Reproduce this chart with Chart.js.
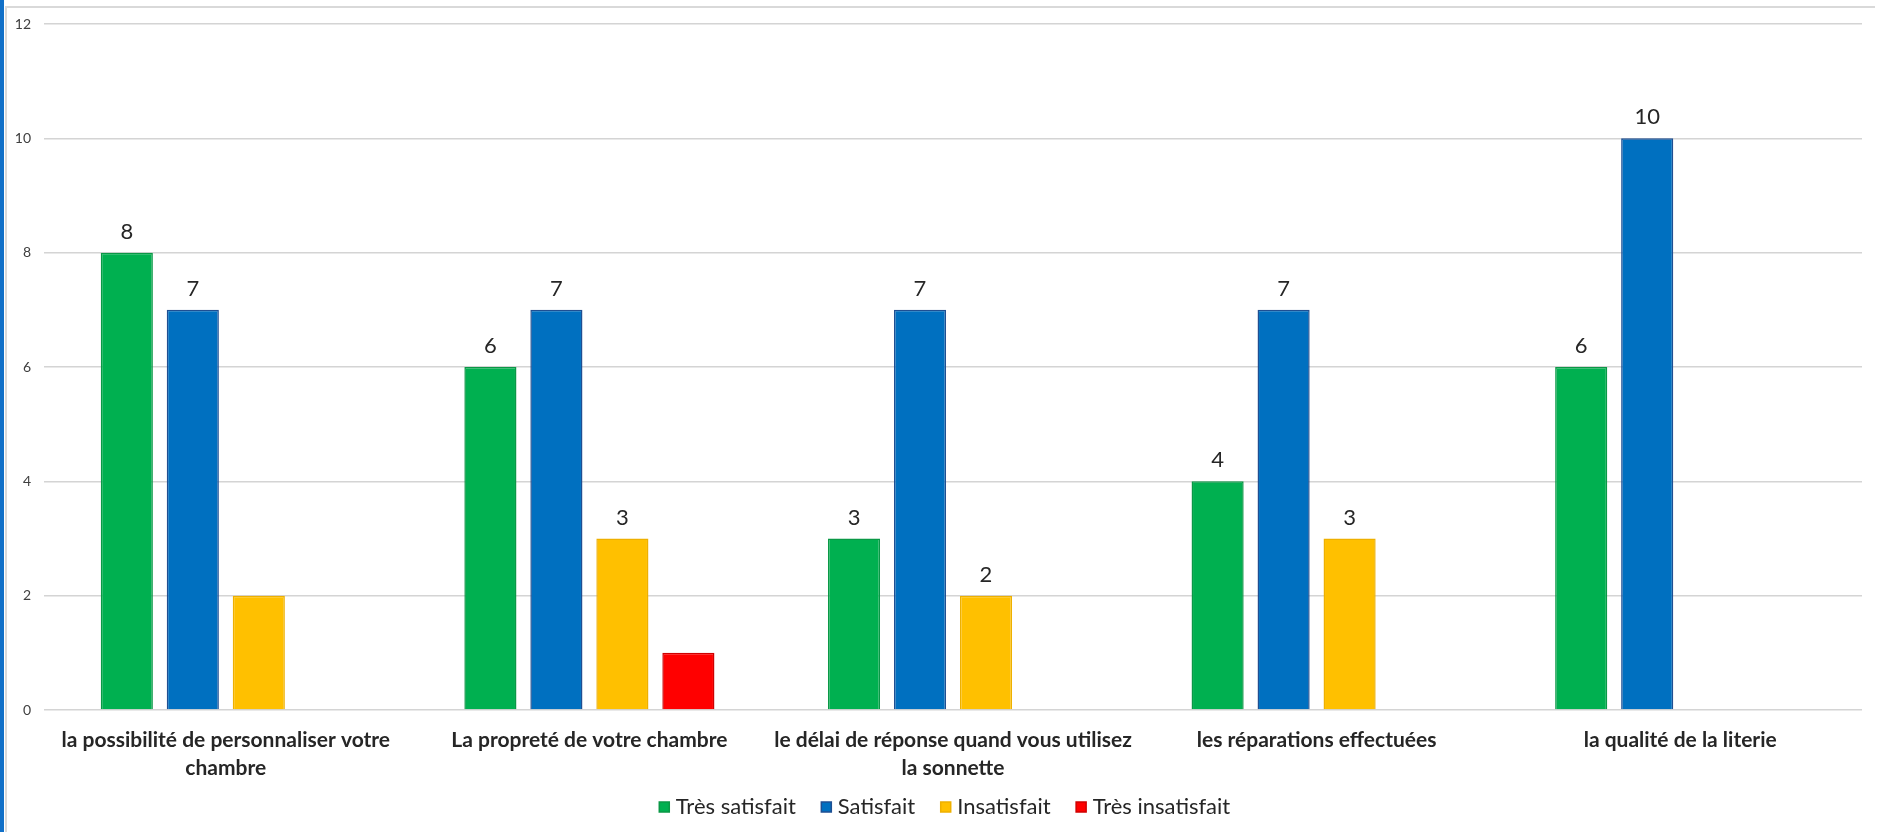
<!DOCTYPE html>
<html>
<head>
<meta charset="utf-8">
<title>Satisfaction</title>
<script src="https://cdn.jsdelivr.net/npm/chart.js@4.4.1/dist/chart.umd.min.js"></script>
<style>
    html, body { margin: 0; padding: 0; background: #fff; }
    #frame { position: absolute; left: 0; top: 0; width: 1878px; height: 832px; overflow: hidden; }
    #blueEdge { position: absolute; left: 0; top: 0; width: 4px; height: 832px; background: #1170c8; }
    #greyEdge { position: absolute; left: 5px; top: 6px; width: 1870px; height: 826px;
                border-left: 2px solid #d9d9d9; border-top: 2px solid #d9d9d9; box-sizing: border-box; }
    #chartBox { position: absolute; left: 0; top: 0; width: 1878px; height: 832px; }
</style>
</head>
<body>
<div id="frame">
    <div id="blueEdge"></div>
    <div id="greyEdge"></div>
    <div id="chartBox"><canvas id="barChartSatisfaction"></canvas></div>
</div>

<script>
"use strict"

// chart data
// -----------------
var categories = [
    ['la possibilité de personnaliser votre', 'chambre'],
    'La propreté de votre chambre',
    ['le délai de réponse quand vous utilisez', 'la sonnette'],
    'les réparations effectuées',
    'la qualité de la literie'
];

var seriesNames = ['Très satisfait', 'Satisfait', 'Insatisfait', 'Très insatisfait'];

var tresSatisfait = [8, 6, 3, 4, 6];
var satisfait = [7, 7, 7, 7, 10];
var insatisfait = [2, 3, 2, 3, null];
var tresInsatisfait = [null, 1, null, null, null];

var yTicks = [0, 2, 4, 6, 8, 10, 12];

// [series, category] pairs that have no value label in the original
var unlabelled = [[2, 0], [3, 1]];
// -----------------

var fillColors = ['#00b050', '#0070c0', '#ffc000', '#ff0000'];
var edgeColors = ['#0a9846', '#1f4f92', '#eeb000', '#d00000'];

Chart.defaults.font.family = 'Lato, Carlito, "Noto Sans", sans-serif';
Chart.defaults.color = '#262626';

// value labels above the bars
var barValueLabels = {
    id: 'barValueLabels',
    afterDatasetsDraw: function(chart) {
        var ctx = chart.ctx;
        ctx.save();
        ctx.font = '22px Lato, Carlito, sans-serif';
        ctx.fillStyle = '#262626';
        ctx.textAlign = 'center';
        ctx.textBaseline = 'middle';
        chart.data.datasets.forEach(function(ds, di) {
            var meta = chart.getDatasetMeta(di);
            meta.data.forEach(function(bar, i) {
                var v = ds.data[i];
                if (v === null || v === undefined) return;
                var skip = unlabelled.some(function(p) { return p[0] === di && p[1] === i; });
                if (skip) return;
                ctx.fillText(String(v), bar.x, bar.y - 21);
            });
        });
        ctx.restore();
    }
};

// the x labels need a tall box (they get clipped to it), so stretch the legend
// box upwards afterwards so its items sit where the Excel ones are
var legendNudge = {
    id: 'legendNudge',
    afterLayout: function(chart) {
        var lg = chart.legend;
        lg.top -= 16;
        lg.left += 16;
        lg.right += 16;
    }
};

var seriesValues = [tresSatisfait, satisfait, insatisfait, tresInsatisfait];

var data = {
    labels: categories,
    datasets: seriesNames.map(function(name, i) {
        return {
            label: name,
            data: seriesValues[i],
            backgroundColor: fillColors[i],
            borderColor: edgeColors[i],
            borderWidth: 1.5,
            categoryPercentage: 0.726,
            barPercentage: 0.79
        };
    })
};

new Chart(document.getElementById('barChartSatisfaction'), {
    type: 'bar',
    data: data,
    plugins: [barValueLabels, legendNudge],
    options: {
        responsive: true,
        maintainAspectRatio: false,
        animation: false,
        layout: {
            padding: { top: 24, right: 16, bottom: 4, left: 0 }
        },
        plugins: {
            legend: {
                position: 'bottom',
                maxHeight: 46,
                labels: {
                    usePointStyle: true,
                    pointStyle: 'rect',
                    boxWidth: 1,
                    boxHeight: 10,
                    padding: 30,
                    color: '#262626',
                    font: { size: 22 }
                }
            },
            tooltip: { enabled: false }
        },
        scales: {
            x: {
                grid: { display: false },
                border: { display: false },
                ticks: {
                    autoSkip: false,
                    maxRotation: 0,
                    padding: 8,
                    color: '#262626',
                    font: { size: 21, weight: 'bold', lineHeight: 1.33 }
                },
                afterFit: function(scale) { scale.height = 72; }
            },
            y: {
                min: yTicks[0],
                max: yTicks[yTicks.length - 1],
                afterBuildTicks: function(scale) {
                    scale.ticks = yTicks.map(function(v) { return { value: v }; });
                },
                grid: { color: '#d4d4d4', lineWidth: 1.5, drawTicks: false },
                border: { display: false },
                ticks: {
                    padding: 13,
                    color: '#404040',
                    font: { size: 14 }
                },
                afterFit: function(scale) { scale.width = 44; }
            }
        }
    }
});
// -----------------
</script>
</body>
</html>
